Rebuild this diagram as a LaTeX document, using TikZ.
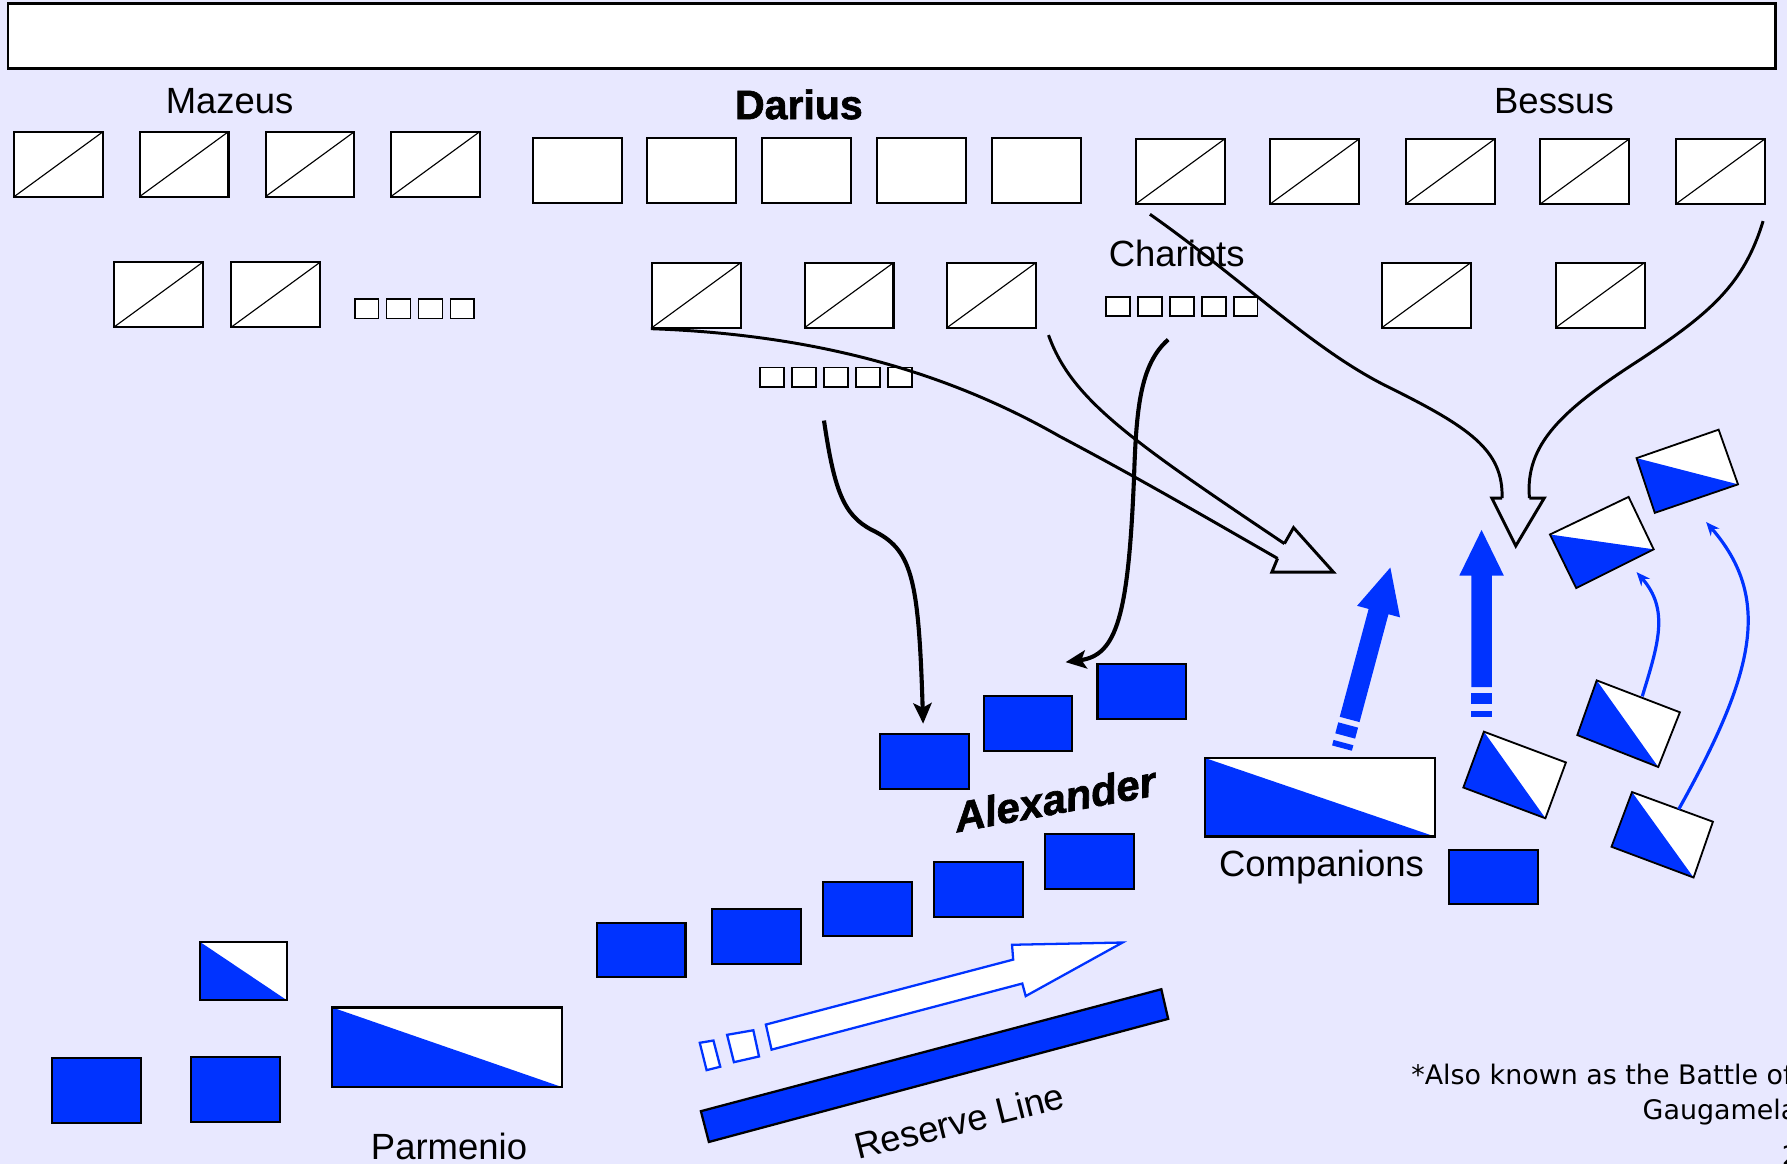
\documentclass[tikz,border=0pt]{standalone}
\usepackage{fontspec}
\setmainfont{Liberation Sans}
\newfontfamily\heavyfont[BoldFont={Liberation Sans Bold}, BoldFeatures={FakeBold=1.6}, BoldItalicFont={Liberation Sans Bold Italic}, BoldItalicFeatures={FakeBold=1.6}]{Liberation Sans}
\newfontfamily\notefont{DejaVu Sans}
\usetikzlibrary{arrows.meta}
\definecolor{bg}{RGB}{232,232,255}
\definecolor{armyblue}{RGB}{0,51,255}
\tikzset{
  lbl/.style={font=\fontsize{16}{19}\selectfont, anchor=base, inner sep=0},
  boldlbl/.style={lbl, font=\heavyfont\bfseries\fontsize{18}{21}\selectfont},
  note/.style={font=\notefont\fontsize{11.8}{14}\selectfont, anchor=base west, inner sep=0},
  unit/.style={draw, fill=white, line width=0.9pt, inner sep=0, minimum width=39pt, minimum height=28.5pt},
  split/.style={unit, path picture={\draw[line width=0.5pt] (path picture bounding box.south west) -- (path picture bounding box.north east);}},
  chariot/.style={draw, fill=white, line width=0.75pt, inner sep=0, minimum width=10.5pt, minimum height=8.5pt},
  blueunit/.style={draw, fill=armyblue, line width=0.9pt, inner sep=0, minimum width=39pt, minimum height=24pt},
  halfunit/.style={draw, fill=white, line width=0.9pt, inner sep=0,
    path picture={\fill[armyblue] (path picture bounding box.north west) -- (path picture bounding box.south east) -- (path picture bounding box.south west) -- cycle;}},
  hollowline/.style={line width=1.3pt, black, line join=miter},
  thrust/.style={line width=1.8pt, black, -{Stealth[length=9pt,width=8pt,inset=2pt]}},
  bluemove/.style={line width=1.4pt, armyblue, -{Stealth[length=6pt,width=5pt]}},
  diamondedge/.style={line width=0.8pt, black, line join=miter},
  bigarrow/.pic={
    \fill[armyblue] (0,-9) rectangle (5,9);
    \fill[armyblue] (11,-9) rectangle (21,9);
    \fill[armyblue] (26,-9) -- (124,-9) -- (124,-19.5) -- (164,0) -- (124,19.5) -- (124,9) -- (26,9) -- cycle;
  }
}
\begin{document}
\begin{tikzpicture}[x=0.5pt,y=-0.5pt]
\useasboundingbox (0,0) rectangle (1568,1021.3);
\clip (0,0) rectangle (1568,1021.3);
\fill[bg] (0,0) rectangle (1568,1021.3);

% title bar
\node[draw, fill=white, line width=1pt, inner sep=0, minimum width=775.5pt, minimum height=28.5pt] (title) at (782.5,31.5) {};

% labels
\node[lbl] (lmaz) at (201.5,100) {Mazeus};
\node[boldlbl] (ldar) at (701,104.5) {Darius};
\node[lbl] (lbes) at (1363.5,99.5) {Bessus};
\node[lbl] (lcha) at (1032.5,234) {Chariots};
\node[lbl] (lcom) at (1159.5,769.5) {Companions};
\node[lbl] (lpar) at (394,1017) {Parmenio};
\node[lbl, rotate=14] (lres) at (844.5,995) {Reserve Line};
\node[lbl, font=\heavyfont\bfseries\itshape\fontsize{18.5}{21}\selectfont, rotate=10.5] (lalex) at (928,714) {Alexander};
\node[note] (fn1) at (1238,952) {*Also known as the Battle of};
\node[note] (fn2) at (1441,982) {Gaugamela};
\node[note] (pg) at (1563,1023) {2};

% Persian front line
\node[split] (m1) at (51.5,144) {};
\node[split] (m2) at (161.5,144) {};
\node[split] (m3) at (272,144) {};
\node[split] (m4) at (382,144) {};
\node[unit] (dar1) at (506.5,149.5) {};
\node[unit] (dar2) at (607,149.5) {};
\node[unit] (dar3) at (708,149.5) {};
\node[unit] (dar4) at (808.5,149.5) {};
\node[unit] (dar5) at (909.5,149.5) {};
\node[split] (b1) at (1035.5,150.5) {};
\node[split] (b2) at (1153.5,150.5) {};
\node[split] (b3) at (1272.5,150.5) {};
\node[split] (b4) at (1390.5,150.5) {};
\node[split] (b5) at (1509.5,150.5) {};

% second line
\node[split] (m5) at (139,258.5) {};
\node[split] (m6) at (242,258.5) {};
\node[split] (d21) at (611,259) {};
\node[split] (d22) at (745,259) {};
\node[split] (d23) at (870,259) {};
\node[split] (b6) at (1251.5,259) {};
\node[split] (b7) at (1404,259) {};

% chariots
\foreach \k in {0,...,3} \node[chariot] (cm\k) at ({321.7+28*\k},271) {};
\foreach \k in {0,...,4} \node[chariot] (cc\k) at ({981+28*\k},269) {};
\foreach \k in {0,...,4} \node[chariot] (cd\k) at ({677.5+28*\k},331) {};

% Macedonian units
\node[blueunit] (a1) at (811,668) {};
\node[blueunit] (a2) at (902,635) {};
\node[blueunit] (a3) at (1002,606.5) {};
\node[blueunit] (a4) at (956,756) {};
\node[blueunit] (a5) at (858.5,780.5) {};
\node[blueunit] (a6) at (761,797.5) {};
\node[blueunit] (a7) at (664,821.5) {};
\node[blueunit] (a8) at (562.5,833.5) {};
\node[blueunit] (a9) at (1310.5,769.5) {};
\node[blueunit, minimum height=28.5pt] (p1) at (84.5,956.5) {};
\node[blueunit, minimum height=28.5pt] (p2) at (207,956) {};
\node[halfunit, minimum width=101pt, minimum height=34.5pt] (comp) at (1158,699.5) {};
\node[halfunit, minimum width=101pt, minimum height=35pt] (parm) at (392.5,919) {};
\node[halfunit, minimum width=38pt, minimum height=25.5pt] (pcav) at (213.5,852) {};

% rotated cavalry units
\fill[white] (1302,642) -- (1374,669) -- (1356,718) -- cycle;
\fill[armyblue] (1302,642) -- (1356,718) -- (1284,691) -- cycle;
\draw[diamondedge] (1302,642) -- (1374,669) -- (1356,718) -- (1284,691) -- cycle;
\fill[white] (1401,597) -- (1474,625) -- (1455,673) -- cycle;
\fill[armyblue] (1401,597) -- (1455,673) -- (1384,645) -- cycle;
\draw[diamondedge] (1401,597) -- (1474,625) -- (1455,673) -- (1384,645) -- cycle;
\fill[white] (1432,695) -- (1503,721) -- (1486,770) -- cycle;
\fill[armyblue] (1432,695) -- (1486,770) -- (1414,743) -- cycle;
\draw[diamondedge] (1432,695) -- (1503,721) -- (1486,770) -- (1414,743) -- cycle;
\fill[white] (1360,469) -- (1429,436) -- (1451,482) -- cycle;
\fill[armyblue] (1360,469) -- (1451,482) -- (1383,516) -- cycle;
\draw[diamondedge] (1429,436) -- (1451,482) -- (1383,516) -- (1360,469) -- cycle;
\fill[white] (1436,402) -- (1508,377) -- (1525,425) -- cycle;
\fill[armyblue] (1436,402) -- (1525,425) -- (1452,450) -- cycle;
\draw[diamondedge] (1508,377) -- (1525,425) -- (1452,450) -- (1436,402) -- cycle;

% reserve line
\draw[fill=armyblue, line width=1pt, line join=miter] (615,975) -- (1019,868) -- (1025,894) -- (622,1002) -- cycle;

% hollow blue advance arrow
\draw[armyblue, fill=white, line width=1pt] (614,915) -- (626,913) -- (632,936) -- (620,939) -- cycle;
\draw[armyblue, fill=white, line width=1pt] (638,908) -- (661,904) -- (666,927) -- (644,932) -- cycle;
\draw[armyblue, fill=white, line width=1pt, line join=miter] (672,899) -- (889,842) -- (888,829) -- (985,827) -- (900,874) -- (897,863) -- (677,921) -- cycle;

% big blue thrust arrows
\pic[rotate=75] at (1177.5,656.4) {bigarrow};
\pic[rotate=90] at (1300,629) {bigarrow};

% connector end points
\coordinate (h1a) at (1121,490);
\coordinate (h1b) at (1127,477);
\coordinate (s2) at (920,294);
\coordinate (s3) at (1009,188);
\coordinate (s4) at (1547,194);
\coordinate (h2a) at (1318,437);
\coordinate (h2b) at (1342,437);
\coordinate (s5) at (723,369);
\coordinate (e5) at (810,635);
\coordinate (s6) at (1025,298);
\coordinate (e6) at (935,581);
\coordinate (s7) at (1441,611);
\coordinate (e7) at (1436,502);
\coordinate (s8) at (1473,710);
\coordinate (e8) at (1497,458);

% first hollow black arrow
\draw[hollowline] (d21.south west) .. controls (700,293) and (820,320) .. (930,383) .. controls (1000,420) and (1060,455) .. (h1a);
\draw[hollowline] (s2) .. controls (940,350) and (990,385) .. (h1b);
\draw[hollowline] (h1a) -- (1116,502) -- (1170,502) -- (1135,463) -- (h1b);

% second hollow black arrow
\draw[hollowline] (s3) .. controls (1090,245) and (1150,305) .. (1215,338) .. controls (1290,375) and (1319,395) .. (h2a);
\draw[hollowline] (s4) .. controls (1530,250) and (1500,275) .. (1440,315) .. controls (1370,360) and (1338,390) .. (h2b);
\draw[hollowline] (h2a) -- (1309,437) -- (1330,479) -- (1355,437) -- (h2b);

% solid black arrows
\draw[thrust] (s5) .. controls (732,430) and (740,452) .. (765,465) .. controls (800,482) and (806,505) .. (e5);
\draw[thrust] (s6) .. controls (1000,320) and (997,360) .. (995,420) .. controls (990,540) and (980,575) .. (e6);

% thin blue arrows
\draw[bluemove] (s7) .. controls (1455,565) and (1465,535) .. (e7);
\draw[bluemove] (s8) .. controls (1540,590) and (1555,525) .. (e8);
\end{tikzpicture}
\end{document}
